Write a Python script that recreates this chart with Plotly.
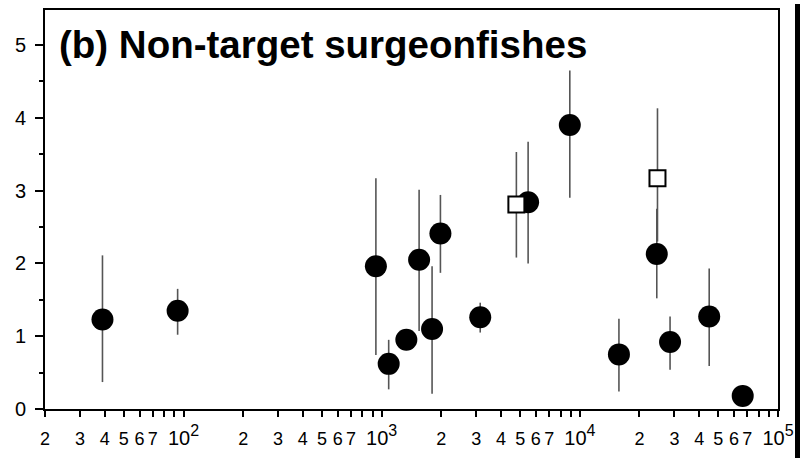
import plotly.graph_objects as go

# Filled circles
circle_x = [39.0, 93.4, 935, 1085, 1332, 1545, 1796, 1979, 3143, 5483, 8900, 15750, 24450, 28530, 44960, 66360]
circle_y = [1.23, 1.35, 1.96, 0.62, 0.95, 2.05, 1.10, 2.41, 1.26, 2.84, 3.90, 0.75, 2.13, 0.92, 1.27, 0.18]
circle_hi = [2.11, 1.65, 3.17, 0.95, 0.95, 3.01, 1.96, 2.94, 1.46, 3.67, 4.65, 1.24, 2.75, 1.27, 1.93, 0.33]
circle_lo = [0.37, 1.02, 0.74, 0.27, 0.95, 1.07, 0.21, 1.87, 1.05, 2.00, 2.90, 0.24, 1.52, 0.54, 0.59, 0.10]

# Open squares
square_x = [4784, 24650]
square_y = [2.81, 3.17]
square_hi = [3.53, 4.13]
square_lo = [2.08, 2.30]

title_text = "(b) Non-target surgeonfishes"
y_ticks = [0, 1, 2, 3, 4, 5]
digit_labels = ["2", "3", "4", "5", "6", "7"]

tickvals, ticktext, minorvals = [], [], []
for base in [10, 100, 1000, 10000]:
    for d, lab in zip(range(2, 8), digit_labels):
        tickvals.append(d * base)
        ticktext.append(lab)
    minorvals += [8 * base, 9 * base]
    exp = len(str(base * 10)) - 1
    tickvals.append(base * 10)
    ticktext.append("<span style='font-size:20px'>10<sup><span style='font-size:16px'>%d</span></sup></span>" % exp)

err_color = "#555555"

fig = go.Figure()
fig.add_trace(go.Scatter(
    x=circle_x, y=circle_y, mode="markers",
    marker=dict(symbol="circle", size=22, color="black", line=dict(width=0)),
    error_y=dict(type="data", symmetric=False,
                 array=[h - y for h, y in zip(circle_hi, circle_y)],
                 arrayminus=[y - l for l, y in zip(circle_lo, circle_y)],
                 color=err_color, thickness=1.6, width=0),
    showlegend=False, hoverinfo="skip",
))
fig.add_trace(go.Scatter(
    x=square_x, y=square_y, mode="markers",
    marker=dict(symbol="square", size=16, color="white", line=dict(width=2, color="black")),
    error_y=dict(type="data", symmetric=False,
                 array=[h - y for h, y in zip(square_hi, square_y)],
                 arrayminus=[y - l for l, y in zip(square_lo, square_y)],
                 color=err_color, thickness=1.6, width=0),
    showlegend=False, hoverinfo="skip",
))

fig.add_annotation(text="<b>%s</b>" % title_text, xref="paper", yref="paper",
                   x=0.017, y=(409 - 44) / 399, xanchor="left", yanchor="middle", showarrow=False,
                   font=dict(family="Liberation Sans, Arial", size=38.5, color="black"))

# dark strip at the right edge of the image
fig.add_shape(type="rect", xref="paper", yref="paper",
              x0=(795 - 45) / 733, x1=(801 - 45) / 733, y0=-50 / 399, y1=1 + 6 / 399,
              fillcolor="black", line=dict(width=0))

fig.update_xaxes(type="log", range=[1.30103, 5.0], tickvals=tickvals, ticktext=ticktext,
                 ticks="outside", ticklen=6, tickwidth=1.5, tickcolor="black",
                 ticklabelstandoff=6, automargin=False,
                 minor=dict(tickvals=minorvals, ticks="outside", ticklen=6, tickwidth=1.5, tickcolor="black"),
                 showline=True, linecolor="black", linewidth=2, mirror=True,
                 showgrid=False, zeroline=False,
                 tickfont=dict(family="Liberation Sans, Arial", size=18, color="black"))
fig.update_yaxes(range=[0, 5.48], tickvals=y_ticks,
                 ticks="outside", ticklen=8, tickwidth=1.5, tickcolor="black",
                 ticklabelstandoff=5, automargin=False,
                 minor=dict(dtick=0.5, ticks="outside", ticklen=4, tickwidth=1.5, tickcolor="black"),
                 showline=True, linecolor="black", linewidth=2, mirror=True,
                 showgrid=False, zeroline=False,
                 tickfont=dict(family="Liberation Sans, Arial", size=20, color="black"))

fig.update_layout(width=800, height=458, margin=dict(l=45, r=22, t=10, b=49),
                  plot_bgcolor="white", paper_bgcolor="white")
fig.write_html("out.html", config={"displayModeBar": False},
               post_script="document.body.style.margin='0';")
